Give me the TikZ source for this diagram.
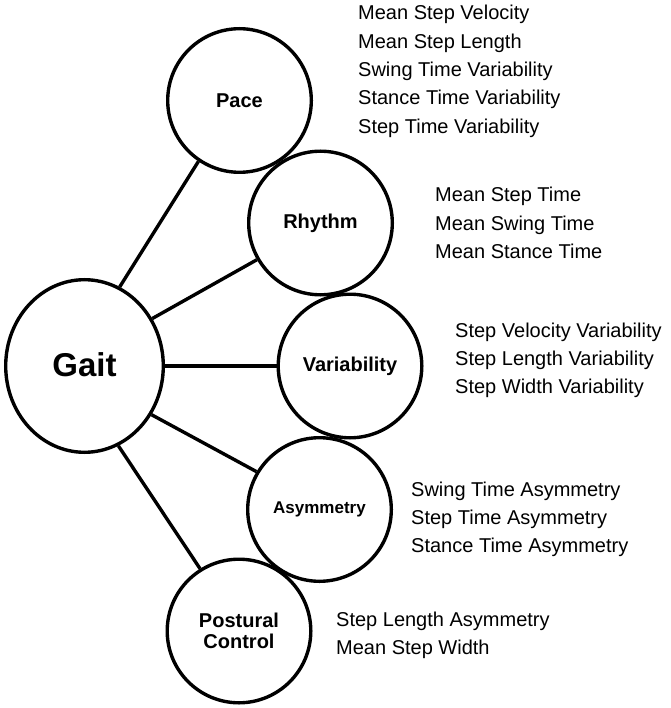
\documentclass[tikz,border=0pt]{standalone}
\usepackage{fontspec}
\setmainfont{Liberation Sans}
\usetikzlibrary{shapes.geometric}

\begin{document}
\begin{tikzpicture}[x=1pt, y=-1pt,
	facet/.style={circle, draw, line width=3.4pt, minimum size=143.6pt, inner sep=0pt, align=center, font=\bfseries\fontsize{20}{21}\selectfont},
	measure/.style={anchor=base west, inner sep=0pt, font=\fontsize{20}{24}\selectfont},
	link/.style={line width=3.4pt}]
	\useasboundingbox (0,0) rectangle (670,708);

	% centre
	\node[ellipse, draw, line width=3.4pt, minimum width=157.6pt, minimum height=172.6pt, inner sep=0pt, font=\bfseries\fontsize{33}{36}\selectfont] (gait) at (84.5,366) {\raisebox{3pt}{Gait}};

	% domains
	\node[facet] (pace) at (239.5,100.5) {Pace};
	\node[facet] (rhythm) at (320.5,223) {Rhythm};
	\node[facet] (variability) at (350,366) {Variability};
	\node[facet, font=\bfseries\fontsize{17}{20}\selectfont] (asymmetry) at (319.5,509.5) {Asymmetry};
	\node[facet] (postural) at (239,631) {Postural\\Control};

	\draw[link] (gait.66) -- (pace.236);
	\draw[link] (gait.35) -- (rhythm.210);
	\draw[link] (gait.0) -- (variability.180);
	\draw[link] (gait.-36) -- (asymmetry.149);
	\draw[link] (gait.-67) -- (postural.122);

	% measures
	\foreach \t [count=\j from 0] in {Mean Step Velocity, Mean Step Length, Swing Time Variability, Stance Time Variability, Step Time Variability}{
		\node[measure] (pace-m\j) at (358,20+28.3*\j) {\t};
	}
	\foreach \t [count=\j from 0] in {Mean Step Time, Mean Swing Time, Mean Stance Time}{
		\node[measure] (rhythm-m\j) at (435,202+28.2*\j) {\t};
	}
	\foreach \t [count=\j from 0] in {Step Velocity Variability, Step Length Variability, Step Width Variability}{
		\node[measure] (variability-m\j) at (455,337+28.2*\j) {\t};
	}
	\foreach \t [count=\j from 0] in {Swing Time Asymmetry, Step Time Asymmetry, Stance Time Asymmetry}{
		\node[measure] (asymmetry-m\j) at (411,496+28.4*\j) {\t};
	}
	\foreach \t [count=\j from 0] in {Step Length Asymmetry, Mean Step Width}{
		\node[measure] (postural-m\j) at (336,626+28.3*\j) {\t};
	}
\end{tikzpicture}
\end{document}
